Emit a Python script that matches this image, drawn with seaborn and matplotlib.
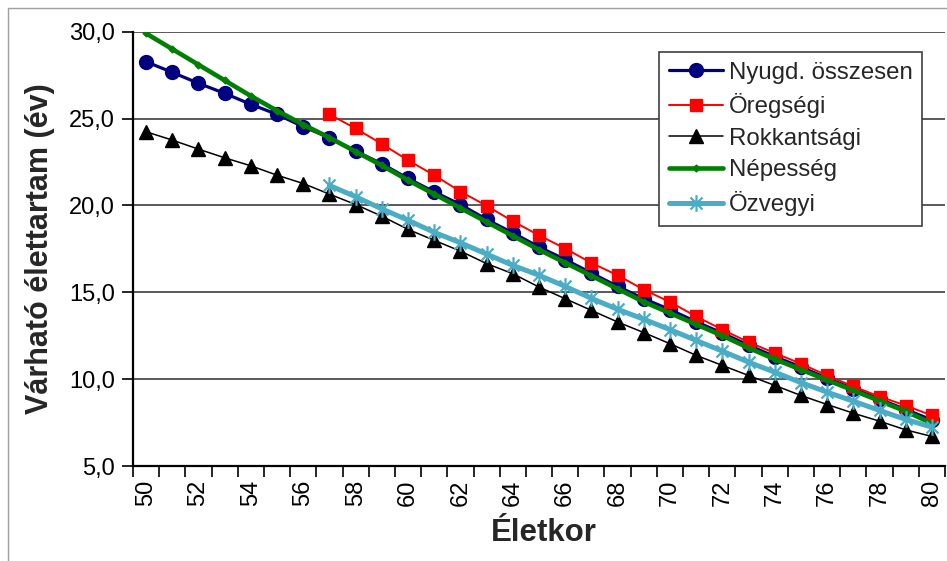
import numpy as np
import pandas as pd
import matplotlib
matplotlib.use("Agg")
import matplotlib.pyplot as plt
import seaborn as sns
from matplotlib.patches import Rectangle
from matplotlib.path import Path
from matplotlib.ticker import FixedLocator, FuncFormatter

# Life expectancy (years) by age
ages = list(range(50, 81))

nyugd_osszesen = [28.27, 27.66, 27.03, 26.45, 25.82, 25.24, 24.53, 23.90, 23.12, 22.40,
                  21.55, 20.78, 20.05, 19.19, 18.42, 17.61, 16.88, 16.11, 15.34, 14.63,
                  14.00, 13.30, 12.65, 11.95, 11.30, 10.70, 10.05, 9.45, 8.85, 8.25, 7.65]

oregsegi = [None] * 7 + [25.24, 24.43, 23.54, 22.60, 21.74, 20.80, 19.98, 19.09, 18.28,
                         17.52, 16.69, 15.98, 15.15, 14.44, 13.61, 12.85, 12.13, 11.50,
                         10.89, 10.21, 9.58, 9.00, 8.48, 7.91]

rokkantsagi = [24.24, 23.76, 23.24, 22.74, 22.28, 21.74, 21.26, 20.65, 20.05, 19.38,
               18.62, 17.99, 17.37, 16.65, 16.07, 15.30, 14.63, 13.96, 13.29, 12.68,
               12.04, 11.37, 10.79, 10.21, 9.64, 9.06, 8.54, 8.04, 7.58, 7.08, 6.70]

nepesseg = [29.90, 29.00, 28.10, 27.20, 26.30, 25.45, 24.65, 23.90, 23.10, 22.30,
            21.45, 20.65, 19.85, 19.05, 18.25, 17.45, 16.70, 15.95, 15.20, 14.45,
            13.80, 13.15, 12.50, 11.80, 11.15, 10.55, 9.95, 9.35, 8.75, 8.15, 7.45]

ozvegyi = [None] * 7 + [21.15, 20.50, 19.80, 19.15, 18.45, 17.85, 17.20, 16.55, 15.98,
                        15.34, 14.65, 14.02, 13.45, 12.85, 12.23, 11.61, 10.98, 10.40,
                        9.80, 9.25, 8.73, 8.20, 7.68, 7.24]

series_names = ["Nyugd. összesen", "Öregségi", "Rokkantsági", "Népesség", "Özvegyi"]

df = pd.DataFrame({
    "Életkor": ages,
    series_names[0]: nyugd_osszesen,
    series_names[1]: oregsegi,
    series_names[2]: rokkantsagi,
    series_names[3]: nepesseg,
    series_names[4]: ozvegyi,
}).astype(float)

# six-armed asterisk marker (vertical bar plus an X)
star_path = Path(
    [(0, -1), (0, 1), (-0.72, -0.72), (0.72, 0.72), (-0.72, 0.72), (0.72, -0.72)],
    [Path.MOVETO, Path.LINETO, Path.MOVETO, Path.LINETO, Path.MOVETO, Path.LINETO],
)

styles = {
    "Nyugd. összesen": dict(color="#000080", linewidth=2.3, marker="o", markersize=10),
    "Öregségi": dict(color="#FF0000", linewidth=1.4, marker="s", markersize=9),
    "Rokkantsági": dict(color="#000000", linewidth=1.1, marker="^", markersize=9.5),
    "Népesség": dict(color="#008000", linewidth=3.3, marker="D", markersize=3.5),
    "Özvegyi": dict(color="#4BACC6", linewidth=3.6, marker=star_path, markersize=12,
                    markeredgewidth=1.6),
}

sns.set_theme(style="white")
plt.rcParams["font.family"] = ["Liberation Sans", "DejaVu Sans"]

fig = plt.figure(figsize=(9.47, 5.61), dpi=100)
ax = fig.add_axes([133 / 947, 1 - 466 / 561, (945 - 133) / 947, (466 - 31.7) / 561])

for z, name in enumerate(series_names):
    sub = df[["Életkor", name]].dropna()
    st = styles[name]
    sns.lineplot(data=sub, x="Életkor", y=name, ax=ax, label=name, sort=False,
                 color=st["color"], linewidth=st["linewidth"], marker=st["marker"],
                 markersize=st["markersize"],
                 markeredgewidth=st.get("markeredgewidth", 1.0),
                 markeredgecolor=st["color"], markerfacecolor=st["color"],
                 zorder=3 + z)

ax.set_xlim(49.5, 80.5)
ax.set_ylim(5, 30)

# y axis
ax.yaxis.set_major_locator(FixedLocator([5, 10, 15, 20, 25, 30]))
ax.yaxis.set_major_formatter(FuncFormatter(lambda v, p: f"{v:.1f}".replace(".", ",")))
ax.yaxis.grid(True, color="#3d3d3d", linewidth=1.2)
ax.set_axisbelow(True)
ax.tick_params(axis="y", direction="out", length=8, width=1.2, labelsize=17,
               pad=5, colors="black", left=True)

# x axis: labels on even ages, tick marks between categories
ax.xaxis.set_major_locator(FixedLocator(list(range(50, 81, 2))))
ax.xaxis.set_minor_locator(FixedLocator([a - 0.5 for a in ages] + [80.5]))
ax.tick_params(axis="x", which="major", length=0, labelsize=17, labelrotation=90,
               pad=10, colors="black")
ax.tick_params(axis="x", which="minor", direction="out", length=8, width=1.2,
               colors="black", bottom=True)

for side in ("top", "right"):
    ax.spines[side].set_visible(False)
for side in ("left", "bottom"):
    ax.spines[side].set_color("black")
    ax.spines[side].set_linewidth(1.6)

ax.set_ylabel("Várható élettartam (év)", fontsize=22, fontweight="bold", va="center")
ax.yaxis.set_label_coords((40 - 133) / 812, 0.5)
ax.set_xlabel("Életkor", fontsize=22.5, fontweight="bold", va="center")
ax.xaxis.set_label_coords((544 - 133) / 812, (466 - 533) / 434.3)

leg = ax.legend(loc="upper left", bbox_to_anchor=(659 / 947, 1 - 52 / 561),
                bbox_transform=fig.transFigure, borderaxespad=0, fontsize=17.3,
                frameon=True, fancybox=False, framealpha=1, edgecolor="#404040",
                borderpad=0.4, handlelength=2.25, handletextpad=0.25,
                labelspacing=0.4)
leg.get_frame().set_linewidth(1.2)
leg.set_zorder(20)

# chart border
fig.add_artist(Rectangle((8 / 947, -0.1), 2, (1 - 8 / 561) + 0.1,
                         transform=fig.transFigure, fill=False,
                         edgecolor="#a0a0a0", linewidth=1.0))

fig.savefig("out.png", dpi=100)
